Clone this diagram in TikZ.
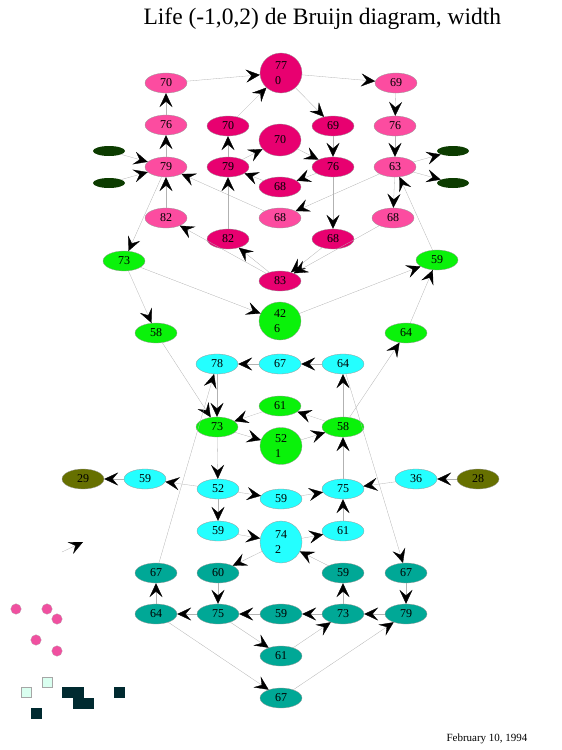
\documentclass[tikz,border=0pt]{standalone}
\usepackage{fontspec}
\setmainfont{Liberation Serif}
\usetikzlibrary{shapes.geometric,arrows.meta}
\begin{document}
\begin{tikzpicture}[x=1pt,y=-1pt,
    nd/.style={ellipse, draw=gray!80, line width=0.3pt, minimum width=42pt, minimum height=20pt, inner sep=0pt, font=\fontsize{12}{15}\selectfont},
    big/.style={nd, align=left},
    tiny/.style={ellipse, fill=mydkgreen, minimum width=32pt, minimum height=10pt, inner sep=0pt},
    link/.style={draw=gray!60, line width=0.3pt, -{Stealth[color=black,length=14pt,width=13pt,inset=5.5pt]}}]
    \definecolor{mypinkA}{RGB}{252,76,160}
    \definecolor{mypinkB}{RGB}{232,0,112}
    \definecolor{mygreen}{RGB}{10,242,10}
    \definecolor{mycyan}{RGB}{36,255,255}
    \definecolor{myteal}{RGB}{0,168,150}
    \definecolor{myolive}{RGB}{102,112,0}
    \definecolor{mydkgreen}{RGB}{12,60,0}
    \definecolor{mydot}{RGB}{240,80,160}
    \definecolor{mylight}{RGB}{218,255,240}
    \definecolor{mysquare}{RGB}{0,42,48}

    \useasboundingbox (0,0) rectangle (562,750);

    \node[anchor=base west, font=\fontsize{23.5}{24}\selectfont] (title) at (140,24) {Life (-1,0,2) de Bruijn diagram, width};
    \node[anchor=base west, font=\fontsize{11}{11}\selectfont] (date) at (443,741) {February 10, 1994};

    % pink block
    \node[nd, fill=mypinkA] (tA70) at (166,83) {70};
    \node[big, fill=mypinkB, minimum height=40pt] (tZ770) at (281,73) {77\\0};
    \node[nd, fill=mypinkA] (tA69) at (396,83) {69};
    \node[nd, fill=mypinkA] (tA76l) at (166,125) {76};
    \node[nd, fill=mypinkB] (tB70) at (228,126) {70};
    \node[nd, fill=mypinkB] (tB69) at (333,126) {69};
    \node[nd, fill=mypinkA] (tA76r) at (395,126) {76};
    \node[nd, fill=mypinkB, minimum height=32pt] (tC70) at (280,140) {70};
    \node[nd, fill=mypinkA] (tA79) at (166,167) {79};
    \node[nd, fill=mypinkB] (tB79) at (228,167) {79};
    \node[nd, fill=mypinkB] (tB76) at (333,167) {76};
    \node[nd, fill=mypinkA] (tA63) at (395,167) {63};
    \node[nd, fill=mypinkB] (tB68) at (280,187) {68};
    \node[tiny] (dg1) at (109,151) {};
    \node[tiny] (dg2) at (109,183) {};
    \node[tiny] (dg3) at (453,151) {};
    \node[tiny] (dg4) at (453,183) {};
    \node[nd, fill=mypinkA] (tA82) at (166,218) {82};
    \node[nd, fill=mypinkA] (tA68c) at (280,218) {68};
    \node[nd, fill=mypinkA] (tA68r) at (393,218) {68};
    \node[nd, fill=mypinkB] (tB82) at (228,239) {82};
    \node[nd, fill=mypinkB] (tB68r) at (333,239) {68};
    \node[nd, fill=mypinkB] (tB83) at (280,281) {83};

    % green block
    \node[nd, fill=mygreen] (g73) at (124,261) {73};
    \node[nd, fill=mygreen] (g59) at (437,260) {59};
    \node[big, fill=mygreen, minimum height=38pt] (g426) at (280,321) {42\\6};
    \node[nd, fill=mygreen] (g58) at (156,333) {58};
    \node[nd, fill=mygreen] (g64) at (406,333) {64};
    \node[nd, fill=mygreen] (g61) at (280,406) {61};
    \node[nd, fill=mygreen] (g73m) at (217,427) {73};
    \node[big, fill=mygreen, minimum height=37pt] (g521) at (281,446) {52\\1};
    \node[nd, fill=mygreen] (g58m) at (343,427) {58};

    % cyan block
    \node[nd, fill=mycyan] (c78) at (217,364) {78};
    \node[nd, fill=mycyan] (c67) at (280,364) {67};
    \node[nd, fill=mycyan] (c64) at (343,364) {64};
    \node[nd, fill=myolive] (o29) at (83,479) {29};
    \node[nd, fill=mycyan] (c59l) at (145,479) {59};
    \node[nd, fill=mycyan] (c52) at (218,489) {52};
    \node[nd, fill=mycyan] (c59) at (281,499) {59};
    \node[nd, fill=mycyan] (c75) at (343,489) {75};
    \node[nd, fill=mycyan] (c36) at (416,479) {36};
    \node[nd, fill=myolive] (o28) at (478,479) {28};
    \node[nd, fill=mycyan] (c59b) at (218,531) {59};
    \node[big, fill=mycyan, minimum height=42pt] (c742) at (281,542) {74\\2};
    \node[nd, fill=mycyan] (c61) at (343,531) {61};

    % teal block
    \node[nd, fill=myteal] (e67l) at (156,573) {67};
    \node[nd, fill=myteal] (e60) at (218,573) {60};
    \node[nd, fill=myteal] (e59r) at (343,573) {59};
    \node[nd, fill=myteal] (e67r) at (406,573) {67};
    \node[nd, fill=myteal] (e64) at (156,614) {64};
    \node[nd, fill=myteal] (e75) at (218,614) {75};
    \node[nd, fill=myteal] (e59) at (281,614) {59};
    \node[nd, fill=myteal] (e73) at (343,614) {73};
    \node[nd, fill=myteal] (e79) at (406,614) {79};
    \node[nd, fill=myteal] (e61) at (281,656) {61};
    \node[nd, fill=myteal] (e67b) at (281,698) {67};

    \foreach \a/\b in {tA70/tZ770, tZ770/tA69, tB70/tZ770, tZ770/tB69, tA76l/tA70, tA79/tA76l,
        tB79/tB70, tB79/tC70, tC70/tB76, tB76/tB68, tB68/tB79, tB69/tB76, tA69/tA76r, tA76r/tA63,
        dg1/tA79, dg2/tA79, tA63/dg3, tA63/dg4, tA82/tA79, tA68c/tA79, tA63/tA68c, tA63/tA68r,
        g59/tA63, tB76/tB68r, tB82/tB79, tA79/g73, tB83/tA82, tB83/tB82, tB68r/tB83, tA68r/tB83,
        g73/g426, g426/g59, g73/g58, g64/g59, g58/g73m, g58m/g64, c67/c78, c64/c67, c78/g73m,
        g61/g73m, g58m/g61, g58m/c64, g73m/g521, g521/g58m, g73m/c52, c52/c59l, c59l/o29,
        c52/c59, c59/c75, c75/g58m, c36/c75, o28/c36, c52/c59b, e67l/c78, c64/e67r,
        c59b/c742, c742/c61, c61/c75, c742/e60, e59r/c742, e60/e75, e75/e64, e64/e67l,
        e59/e75, e73/e59, e79/e73, e67r/e79, e73/e59r, e75/e61, e61/e73, e64/e67b, e67b/e79}
        \draw[link] (\a) -- (\b);

    % stray arrow
    \coordinate (la1) at (62,552);
    \coordinate (la2) at (83,542);
    \draw[link] (la1) -- (la2);

    % legend marks
    \foreach \x/\y in {16/609, 47/609, 57/619, 36/640, 57/651}
        \fill[mydot, draw=gray!60, line width=0.2pt] (\x,\y) circle (5.3);
    \foreach \x/\y in {21/687, 42/677}
        \draw[fill=mylight, draw=gray!70, line width=0.4pt] (\x,\y) rectangle ++(10.5,10.5);
    \foreach \x/\y in {62/687, 73/687, 73/698, 83/698, 114/687, 31/708}
        \fill[mysquare] (\x,\y) rectangle ++(10.6,10.6);
\end{tikzpicture}
\end{document}
